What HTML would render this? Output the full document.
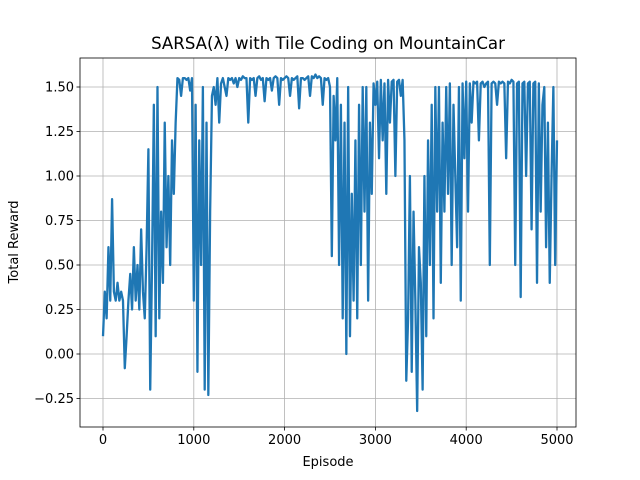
<!DOCTYPE html>
<html><head><meta charset="utf-8"><style>
body{margin:0;background:#fff}
svg{display:block;font-family:"DejaVu Sans","Liberation Sans",sans-serif}
</style></head><body>
<svg id="chart" width="640" height="480">
<rect width="640" height="480" fill="#fff"/>
<g id="grid"></g>
<g id="plot"></g>
<rect x="80" y="58" width="496" height="369" fill="none" stroke="#000" stroke-width="0.8"/>
<g id="ticks"></g>
<text x="328" y="49" text-anchor="middle" font-size="16.6">SARSA(λ) with Tile Coding on MountainCar</text>
<text x="328" y="466" text-anchor="middle" font-size="13">Episode</text>
<text transform="translate(18,242) rotate(-90)" text-anchor="middle" font-size="13">Total Reward</text>
</svg>
<script>
const episodeStep = 20;
const rewards = [
0.1,0.35,0.2,0.6,0.3, 0.87,0.35,0.3,0.4,0.3, 0.35,0.3,-0.08,0.1,0.3, 0.45,0.25,0.6,0.3,0.5,
0.25,0.7,0.35,0.2,0.6, 1.15,-0.2,0.5,1.4,0.1, 1.5,0.2,0.8,0.4,1.3, 0.6,1.0,0.5,1.2,0.9,
1.3,1.55,1.54,1.45,1.55, 1.55,1.54,1.55,1.48,1.55, 0.3,1.4,-0.1,1.2,0.5, 1.5,-0.2,1.3,-0.23,0.8,
1.45,1.5,1.4,1.55,1.3, 1.52,1.55,1.5,1.45,1.55, 1.54,1.55,1.52,1.55,1.5, 1.55,1.54,1.56,1.55,1.55,
1.3,1.55,1.54,1.55,1.45, 1.55,1.56,1.54,1.55,1.42, 1.55,1.54,1.55,1.48,1.55, 1.56,1.55,1.4,1.55,1.54,
1.55,1.56,1.55,1.45,1.55, 1.54,1.55,1.56,1.38,1.55, 1.55,1.54,1.55,1.56,1.45, 1.56,1.55,1.57,1.55,1.56,
1.55,1.4,1.55,1.54,1.55, 1.5,0.55,1.45,1.2,1.55, 0.5,1.4,0.2,1.3,0.0, 1.5,0.1,0.9,0.3,1.2,
0.2,1.4,0.5,1.5,0.8, 1.5,0.3,1.3,0.9,1.52, 1.4,1.53,1.1,1.54,1.2, 1.52,0.9,1.54,1.3,1.53,
1.54,1.0,1.53,1.54,1.45, 1.54,1.2,-0.15,0.2,1.0, -0.1,0.8,0.3,-0.32,0.6, 0.4,-0.2,1.0,0.1,1.2,
0.5,1.4,0.2,1.5,0.8, 1.5,0.4,1.3,0.8,1.5, 0.9,1.52,0.5,1.4,1.0, 0.6,1.5,0.3,1.52,1.1,
1.53,0.8,1.52,1.3,1.53, 1.52,1.53,1.2,1.52,1.53, 1.5,1.52,1.53,0.5,1.52, 1.53,1.52,1.4,1.53,1.52,
1.53,1.52,1.1,1.53,1.52, 1.54,1.53,0.5,1.52,1.53, 0.32,1.52,1.53,1.0,1.52, 1.53,0.7,1.52,1.53,0.4,
1.52,0.8,1.4,1.5,0.6, 1.3,0.4,1.0,1.5,0.5, 1.2
];
const xTicks = [0,1000,2000,3000,4000,5000];
const yTicks = [-0.25,0,0.25,0.5,0.75,1.0,1.25,1.5];
const yTickLabels = ["−0.25","0.00","0.25","0.50","0.75","1.00","1.25","1.50"];

const NS="http://www.w3.org/2000/svg";
const L=80,R=576,T=58,B=427;
function xScale(v){return 103 + v*(557-103)/5000;}
function yScale(v){return 354 - v*178;}
const grid=document.getElementById('grid'), ticks=document.getElementById('ticks'), plot=document.getElementById('plot');
function mk(tag,attrs,parent){const e=document.createElementNS(NS,tag);for(const k in attrs)e.setAttribute(k,attrs[k]);parent.appendChild(e);return e;}
xTicks.forEach(v=>{
  const x=xScale(v);
  const g=mk('line',{x1:x,x2:x,y1:T,y2:B,stroke:'#b0b0b0','stroke-width':0.8},grid);
  
  
  const t=mk('line',{x1:x,x2:x,y1:B,y2:B+3.5,stroke:'#000','stroke-width':0.8},ticks);
  
  
  const l=mk('text',{x:x,y:B+17,'text-anchor':'middle','font-size':13},ticks);
  l.textContent=String(v);
  
  
});
yTicks.forEach((v,i)=>{
  const y=yScale(v);
  const g=mk('line',{x1:L,x2:R,y1:y,y2:y,stroke:'#b0b0b0','stroke-width':0.8},grid);
  
  
  const t=mk('line',{x1:L-3.5,x2:L,y1:y,y2:y,stroke:'#000','stroke-width':0.8},ticks);
  
  
  const l=mk('text',{x:L-6,y:y+4.5,'text-anchor':'end','font-size':13},ticks);
  l.textContent=yTickLabels[i];
  
  
});
const pts=rewards.map((v,i)=>xScale(i*episodeStep).toFixed(2)+','+yScale(v).toFixed(2)).join(' ');
const line=mk('polyline',{points:pts,fill:'none',stroke:'#1f77b4','stroke-width':2.3,'stroke-linejoin':'round'},plot);


</script>
</body></html>
